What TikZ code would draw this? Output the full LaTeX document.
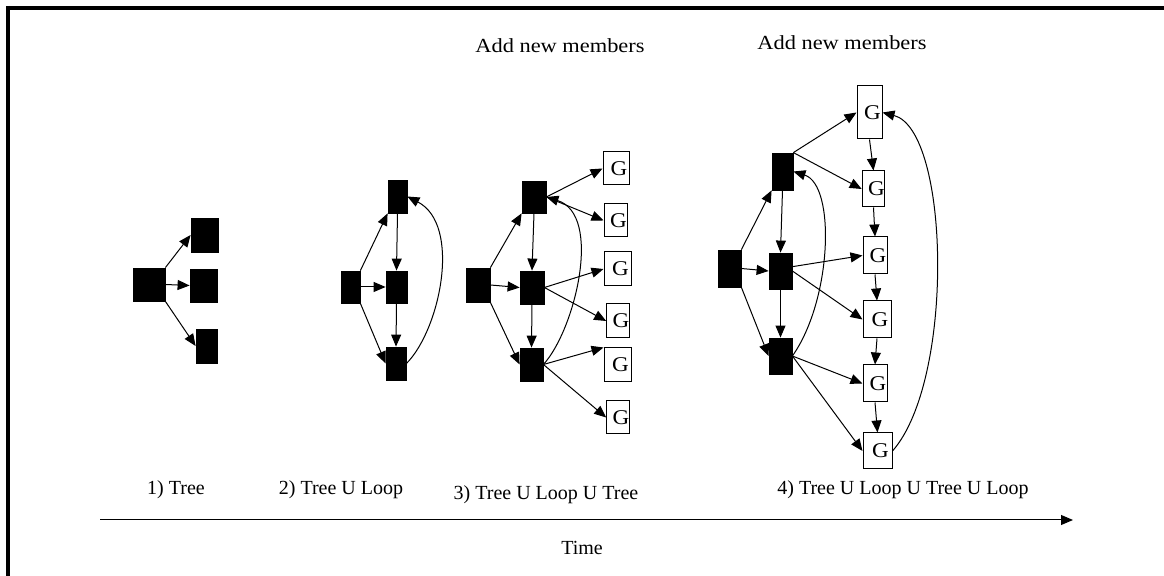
\documentclass[tikz,border=0pt]{standalone}
\usepackage{fontspec}
\setmainfont{Liberation Serif}
\usetikzlibrary{arrows.meta,calc}
\newcommand{\Gtxt}{\hspace*{3pt}\scalebox{1.1}[1]{G}}
\newcommand{\Wtxt}[1]{\scalebox{1.12}[1]{#1}}
\begin{document}
\begin{tikzpicture}[x=0.5pt,y=-0.5pt,
  blk/.style={draw=black,fill=black,inner sep=0pt,line width=0.4pt},
  gbox/.style={draw=black,fill=white,inner sep=0pt,line width=0.5pt,font=\fontsize{10.5}{12}\selectfont},
  lbl/.style={inner sep=0pt,font=\fontsize{10}{12}\selectfont},
  arr/.style={line width=0.5pt,-{Triangle[length=6pt,width=5pt]}},
  frameline/.style={line width=2pt}
]
\useasboundingbox (0,0) rectangle (1164,576);
\draw[frameline] (6,8) -- (1164,8);
\draw[frameline] (8,6) -- (8,576);

% ---------- 1) Tree
\node[blk,minimum width=16pt,minimum height=16.5pt] (r1) at (149,284.5) {};
\node[blk,minimum width=13.5pt,minimum height=17pt] (a1) at (204.5,235) {};
\node[blk,minimum width=13.5pt,minimum height=16.5pt] (b1) at (203.5,285.5) {};
\node[blk,minimum width=10.5pt,minimum height=17pt] (c1) at (206.5,346) {};
\draw[arr] (r1.north east) -- (a1.west);
\draw[arr] (r1.east) -- (b1.west);
\draw[arr] (r1.south east) -- (c1.west);

% ---------- 2) Tree U Loop
\node[blk,minimum width=9.5pt,minimum height=16.5pt] (t2) at (397.5,196.5) {};
\node[blk,minimum width=9.5pt,minimum height=16pt] (l2) at (350.5,287) {};
\node[blk,minimum width=10.5pt,minimum height=16pt] (m2) at (396.5,287) {};
\node[blk,minimum width=10pt,minimum height=16.5pt] (b2) at (396,363.5) {};
\draw[arr] (l2.north east) -- (t2.south west);
\draw[arr] (l2.east) -- (m2.west);
\draw[arr] (l2.south east) -- (b2.west);
\draw[arr] (t2.south) -- (m2.north);
\draw[arr] (m2.south) -- (b2.north);
\draw[arr] (b2.east) .. controls (440,330) and (462,225) .. (t2.east);

% ---------- 3) Tree U Loop U Tree
\node[blk,minimum width=12pt,minimum height=16pt] (t3) at (534,197) {};
\node[blk,minimum width=12pt,minimum height=17pt] (l3) at (478,285) {};
\node[blk,minimum width=12pt,minimum height=16.5pt] (m3) at (532,287.5) {};
\node[blk,minimum width=11.5pt,minimum height=16.5pt] (b3) at (531.5,364.5) {};
\node[gbox,minimum width=13pt,minimum height=16.5pt] (g31) at (616,168.5) {\Gtxt};
\node[gbox,minimum width=11.5pt,minimum height=16.5pt] (g32) at (615.5,220.5) {\Gtxt};
\node[gbox,minimum width=13.5pt,minimum height=17pt] (g33) at (617.5,269) {\Gtxt};
\node[gbox,minimum width=11pt,minimum height=17pt] (g34) at (618,321) {\Gtxt};
\node[gbox,minimum width=13.5pt,minimum height=17pt] (g35) at (617.5,365) {\Gtxt};
\node[gbox,minimum width=11pt,minimum height=16.5pt] (g36) at (618,417.5) {\Gtxt};
\draw[arr] (l3.north east) -- (t3.south west);
\draw[arr] (l3.east) -- (m3.west);
\draw[arr] (l3.south east) -- (b3.west);
\draw[arr] (t3.south) -- (m3.north);
\draw[arr] (m3.south) -- (b3.north);
\draw[arr] (b3.east) .. controls (575,330) and (603,215) .. (t3.east);
\draw[arr] (t3.east) -- (g31.west);
\draw[arr] (t3.east) -- (g32.west);
\draw[arr] (m3.east) -- (g33.west);
\draw[arr] (m3.east) -- (g34.west);
\draw[arr] (b3.east) -- (g35.north west);
\draw[arr] (b3.east) -- (g36.west);

% ---------- 4) Tree U Loop U Tree U Loop
\node[blk,minimum width=10.5pt,minimum height=18.5pt] (t4) at (782.5,171.5) {};
\node[blk,minimum width=11.5pt,minimum height=18.5pt] (l4) at (729.5,268.5) {};
\node[blk,minimum width=11.5pt,minimum height=18pt] (m4) at (780.5,271) {};
\node[blk,minimum width=11.5pt,minimum height=18pt] (b4) at (780.5,356) {};
\node[gbox,minimum width=12.5pt,minimum height=26.5pt] (g41) at (869.5,112.5) {\Gtxt};
\node[gbox,minimum width=10.5pt,minimum height=18pt] (g42) at (873.5,189) {\Gtxt};
\node[gbox,minimum width=12pt,minimum height=18.5pt] (g43) at (875,255.5) {\Gtxt};
\node[gbox,minimum width=14pt,minimum height=18.5pt] (g44) at (877,319.5) {\Gtxt};
\node[gbox,minimum width=12pt,minimum height=18.5pt] (g45) at (875,383.5) {\Gtxt};
\node[gbox,minimum width=14.5pt,minimum height=18pt] (g46) at (877.5,451) {\Gtxt};
\draw[arr] (l4.north east) -- (t4.south west);
\draw[arr] (l4.east) -- (m4.west);
\draw[arr] (l4.south east) -- (b4.west);
\draw[arr] (t4.south) -- (m4.north);
\draw[arr] (m4.south) -- (b4.north);
\draw[arr] (t4.north east) -- (g41.west);
\draw[arr] (t4.north east) -- (g42.west);
\draw[arr] (g41.south) -- (g42.north);
\draw[arr] (g42.south) -- (g43.north);
\draw[arr] (g43.south) -- (g44.north);
\draw[arr] (g44.south) -- (g45.north);
\draw[arr] (g45.south) -- (g46.north);
\draw[arr] (m4.20) -- (g43.west);
\draw[arr] (m4.east) -- (g44.west);
\draw[arr] (b4.east) -- (g45.west);
\draw[arr] (b4.east) -- (g46.west);
\draw[arr] (b4.east) .. controls (832,300) and (836,185) .. (t4.east);
\draw[arr] (g46.east) .. controls (955,380) and (950,130) .. (g41.east);

% ---------- labels
\node[lbl] (add1) at (560,46) {\Wtxt{Add new members}};
\node[lbl] (add2) at (842,43) {\Wtxt{Add new members}};
\node[lbl] (s1) at (176,490) {1) Tree};
\node[lbl] (s2) at (341,490) {2) Tree U Loop};
\node[lbl] (s3) at (546,495) {3) Tree U Loop U Tree};
\node[lbl] (s4) at (903,490) {4) Tree U Loop U Tree U Loop};
\coordinate (ts) at (100,520);
\coordinate (te) at (1073,520);
\draw[arr] (ts) -- (te);
\node[lbl] (time) at (582,548) {Time};
\end{tikzpicture}
\end{document}
